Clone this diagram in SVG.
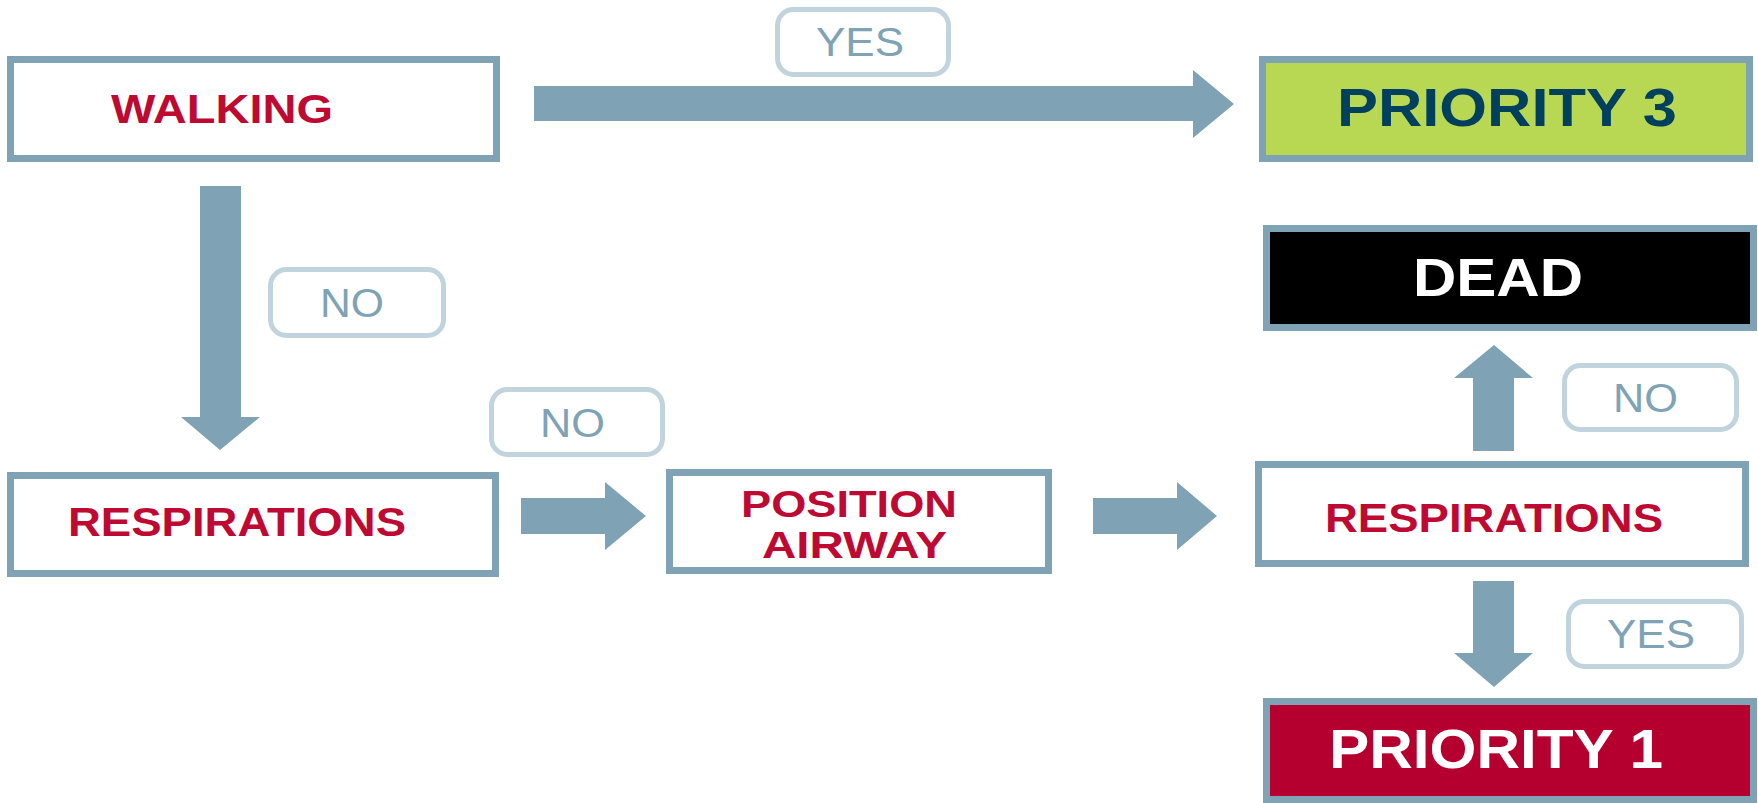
<svg xmlns="http://www.w3.org/2000/svg" width="1758" height="803" viewBox="0 0 1758 803">
<style>
.box{fill:#ffffff;stroke:#7fa3b5;stroke-width:7}
.lbl{fill:#ffffff;stroke:#c1d4dd;stroke-width:5}
.arr{fill:#7fa3b5}
.t{font-family:"Liberation Sans",Arial,sans-serif;font-weight:bold}
.red{fill:#be0a32;font-size:40px}
.lt{font-family:"Liberation Sans",Arial,sans-serif;fill:#7fa3b5;font-size:40px}
</style>
<rect width="1758" height="803" fill="#ffffff"/>
<g id="connectors">
<polygon class="arr" points="534,86 1193,86 1193,70 1234,104 1193,138 1193,121 534,121"/>
<polygon class="arr" points="200,186 241,186 241,417 260,417 220,450 181,417 200,417"/>
<polygon class="arr" points="521,498 605,498 605,482 646,516 605,550 605,534 521,534"/>
<polygon class="arr" points="1093,498 1177,498 1177,482 1217,516 1177,550 1177,534 1093,534"/>
<polygon class="arr" points="1473,451 1473,378 1454,378 1494,345 1533,378 1514,378 1514,451"/>
<polygon class="arr" points="1473,581 1514,581 1514,653 1533,653 1494,687 1454,653 1473,653"/>
<g id="label-yes-1"><rect class="lbl" x="777.5" y="9.5" width="171" height="65" rx="16"/><text class="lt" x="816" y="56" textLength="88" lengthAdjust="spacingAndGlyphs">YES</text></g>
<g id="label-no-1"><rect class="lbl" x="270.5" y="269.5" width="173" height="66" rx="16"/><text class="lt" x="320" y="317" textLength="64" lengthAdjust="spacingAndGlyphs">NO</text></g>
<g id="label-no-2"><rect class="lbl" x="491.5" y="389.5" width="171" height="65" rx="16"/><text class="lt" x="540" y="437" textLength="65" lengthAdjust="spacingAndGlyphs">NO</text></g>
<g id="label-no-3"><rect class="lbl" x="1564.5" y="365.5" width="172" height="64" rx="16"/><text class="lt" x="1613" y="412" textLength="65" lengthAdjust="spacingAndGlyphs">NO</text></g>
<g id="label-yes-2"><rect class="lbl" x="1568.5" y="601.5" width="173" height="65" rx="16"/><text class="lt" x="1607" y="648" textLength="88" lengthAdjust="spacingAndGlyphs">YES</text></g>
</g>
<g id="walking"><rect class="box" x="10.5" y="59.5" width="486" height="99"/><text class="t red" x="111" y="123" font-size="39" textLength="222" lengthAdjust="spacingAndGlyphs">WALKING</text></g>
<g id="priority3"><rect class="box" x="1262.5" y="59.5" width="487" height="99" style="fill:#b8d752"/><text class="t" x="1337" y="126" font-size="53" fill="#00405f" textLength="340" lengthAdjust="spacingAndGlyphs">PRIORITY 3</text></g>
<g id="dead"><rect class="box" x="1266.5" y="228.5" width="487" height="99" style="fill:#000000"/><text class="t" x="1413" y="296" font-size="54" fill="#ffffff" textLength="170" lengthAdjust="spacingAndGlyphs">DEAD</text></g>
<g id="respirations-1"><rect class="box" x="10.5" y="475.5" width="485" height="98"/><text class="t red" x="68" y="536" textLength="338" lengthAdjust="spacingAndGlyphs">RESPIRATIONS</text></g>
<g id="position-airway"><rect class="box" x="669.5" y="472.5" width="379" height="98"/><text class="t red" x="741" y="517" style="font-size:37px" textLength="216" lengthAdjust="spacingAndGlyphs">POSITION</text><text class="t red" x="762" y="558" style="font-size:37px" textLength="185" lengthAdjust="spacingAndGlyphs">AIRWAY</text></g>
<g id="respirations-2"><rect class="box" x="1258.5" y="464.5" width="487" height="99"/><text class="t red" x="1325" y="532" textLength="338" lengthAdjust="spacingAndGlyphs">RESPIRATIONS</text></g>
<g id="priority1"><rect class="box" x="1266.5" y="701.5" width="487" height="98" style="fill:#b5002f"/><text class="t" x="1329" y="768" font-size="55" fill="#ffffff" textLength="334" lengthAdjust="spacingAndGlyphs">PRIORITY 1</text></g>
</svg>
